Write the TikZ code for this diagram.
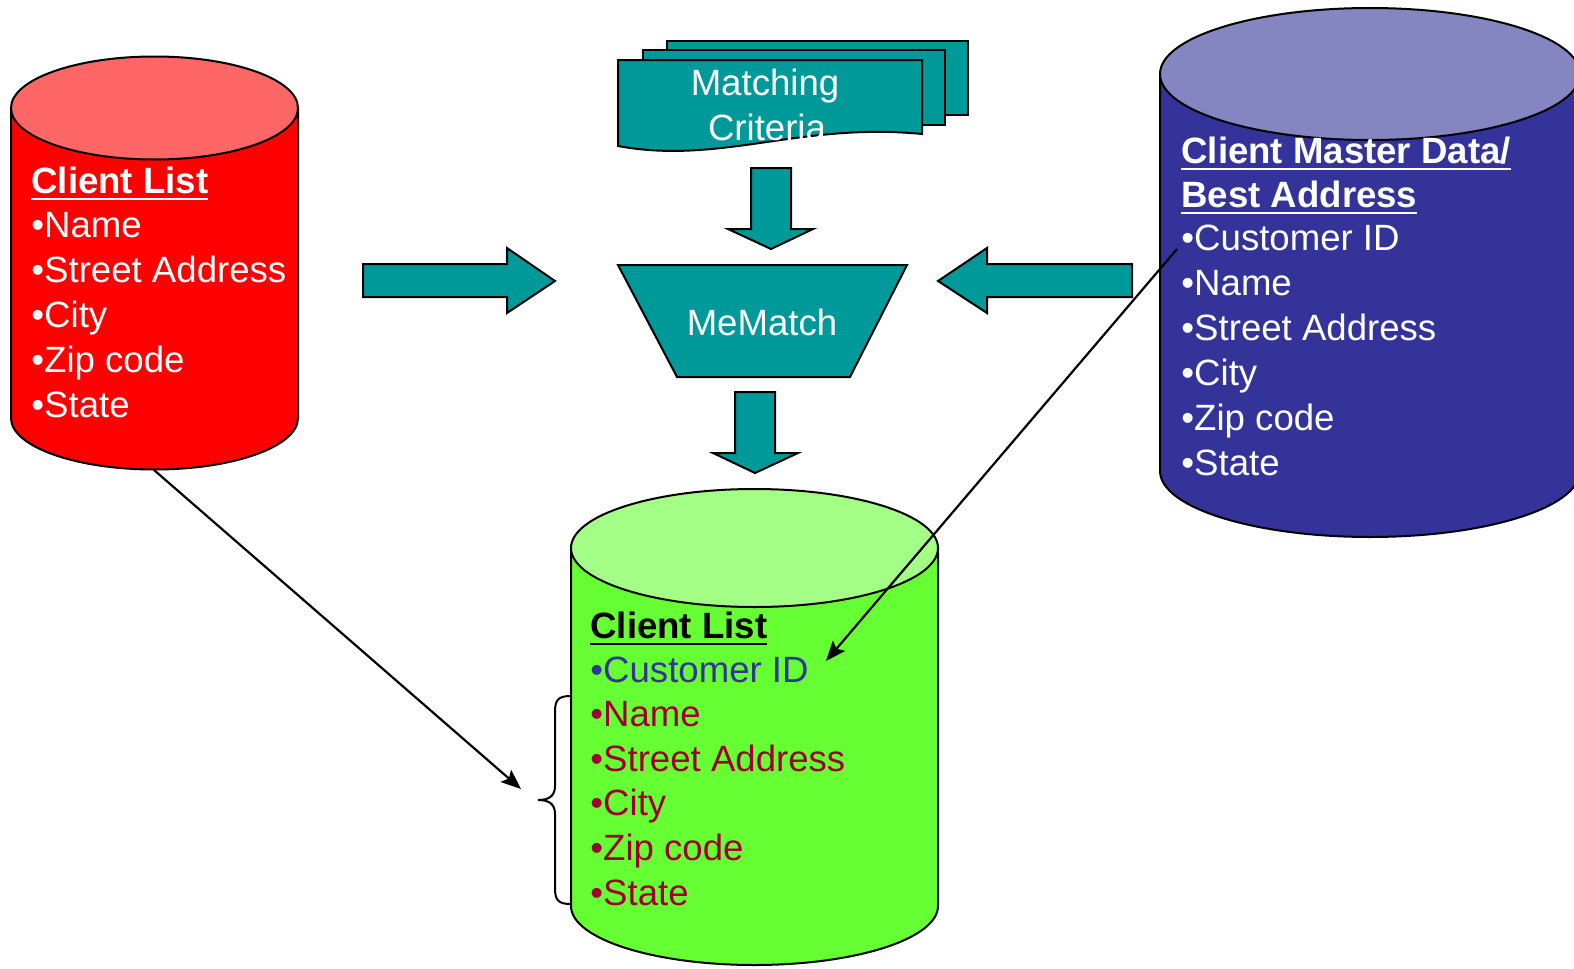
\documentclass[tikz,border=0pt]{standalone}
\usepackage{fontspec}
\setmainfont{Liberation Sans}
\usepackage{tikz}
\usepackage{xcolor}
\usetikzlibrary{%
	calc,%
	arrows.meta
}

\definecolor{mmteal}{HTML}{009999}
\definecolor{redside}{HTML}{FF0000}
\definecolor{redtop}{HTML}{FF6666}
\definecolor{blueside}{HTML}{333399}
\definecolor{bluetop}{HTML}{8585C2}
\definecolor{greenside}{HTML}{66FF33}
\definecolor{greentop}{HTML}{A3FF85}
\definecolor{cidblue}{HTML}{333399}
\definecolor{fieldred}{HTML}{A00030}

% bold heading with a thick underline
\newcommand{\ulhead}[1]{\setbox0\hbox{\bfseries #1}\rlap{\rule[-3.7pt]{\wd0}{1.4pt}}\box0}

\begin{document}
\begin{tikzpicture}
		[x=0.5pt,y=-0.5pt,
		outl/.style={draw=black,line width=1pt},
		blockarrow/.style={outl,fill=mmteal},
		item/.style={inner sep=0pt,font=\fontsize{18.3}{22.35}\selectfont},
		head/.style={item},
		link/.style={line width=1.1pt,-{Stealth[length=10pt,width=8pt,inset=2pt]}}
		]
		\useasboundingbox (0,0) rectangle (1574,969);
		
		% red client list
		\draw[outl,fill=redside] (11,108) -- (11,418) arc[start angle=180,end angle=0,x radius=143.5,y radius=51.5] -- (298,108) -- cycle;
		\draw[outl,fill=redtop] (154.5,108) ellipse[x radius=143.5,y radius=51.5];
		\node[head,anchor=base west,text=white] (rhead) at (31,193) {\ulhead{Client List}};
		\foreach \lbl [count=\i] in {Name,Street Address,City,Zip code,State}
			\node[item,anchor=base west,text=white] (r\i) at (31,{193+44.8*\i}) {\textbullet\lbl};
		
		% blue master data
		\draw[outl,fill=blueside] (1160,74) -- (1160,471) arc[start angle=180,end angle=0,x radius=210,y radius=66] -- (1580,74) -- cycle;
		\draw[outl,fill=bluetop] (1370,74) ellipse[x radius=210,y radius=66];
		\node[head,anchor=base west,text=white] (bhead1) at (1181,163) {\ulhead{Client Master Data/}};
		\node[head,anchor=base west,text=white] (bhead2) at (1181,207) {\ulhead{Best Address}};
		\foreach \lbl [count=\i] in {Customer ID,Name,Street Address,City,Zip code,State}
			\node[item,anchor=base west,text=white] (b\i) at (1181,{205+45*\i}) {\textbullet\lbl};
		
		% green result
		\draw[outl,fill=greenside] (571,548) -- (571,906) arc[start angle=180,end angle=0,x radius=183.5,y radius=59] -- (938,548) -- cycle;
		\draw[outl,fill=greentop] (754.5,548) ellipse[x radius=183.5,y radius=59];
		\node[head,anchor=base west] (ghead) at (590,638) {\ulhead{Client List}};
		\foreach \lbl/\col [count=\i] in {Customer ID/cidblue,Name/fieldred,Street Address/fieldred,City/fieldred,Zip code/fieldred,State/fieldred}
			\node[item,anchor=base west,text=\col] (g\i) at (590,{637.4+44.6*\i}) {\textbullet\lbl};
		
		% brace
		\draw[line width=1pt] (571,696) .. controls (558,696) and (555,700) .. (555,712) -- (555,786)
			.. controls (555,796) and (549,800) .. (538,800) .. controls (549,800) and (555,804) .. (555,814)
			-- (555,888) .. controls (555,900) and (558,904) .. (571,904);
		
		% matching criteria
		\draw[outl,fill=mmteal] (667,41) rectangle (968,115);
		\draw[outl,fill=mmteal] (643,50) rectangle (945,125);
		\draw[outl,fill=mmteal] (618,60) -- (922,60) -- (922,134) .. controls (800,122) and (720,165) .. (618,146) -- cycle;
		\node[item,anchor=base,text=white] (crit1) at (765,95) {Matching};
		\node[item,anchor=base,text=white] (crit2) at (767,140) {Criteria};
		
		% memmatch
		\draw[outl,fill=mmteal] (618,265) -- (907,265) -- (850,377) -- (677,377) -- cycle;
		\node[item,anchor=base,text=white] (mm) at (762,335) {MeMatch};
		
		% block arrows
		\draw[blockarrow] (751,168) -- (791,168) -- (791,229) -- (813,229) -- (771,249) -- (728,229) -- (751,229) -- cycle;
		\draw[blockarrow] (735,392) -- (775,392) -- (775,453) -- (798,453) -- (755,473) -- (713,453) -- (735,453) -- cycle;
		\draw[blockarrow] (363,264) -- (507,264) -- (507,248) -- (555,281) -- (507,313) -- (507,297) -- (363,297) -- cycle;
		\draw[blockarrow] (1132,264) -- (987,264) -- (987,248) -- (938,281) -- (987,313) -- (987,297) -- (1132,297) -- cycle;
		
		% links
		\coordinate (rbase) at (154,470);
		\coordinate (brin) at (521,789);
		\coordinate (bsrc) at (1177,249);
		\coordinate (gcid) at (826,661);
		\draw[link] (rbase) -- (brin);
		\draw[link] (bsrc) -- (gcid);
	\end{tikzpicture}
\end{document}
